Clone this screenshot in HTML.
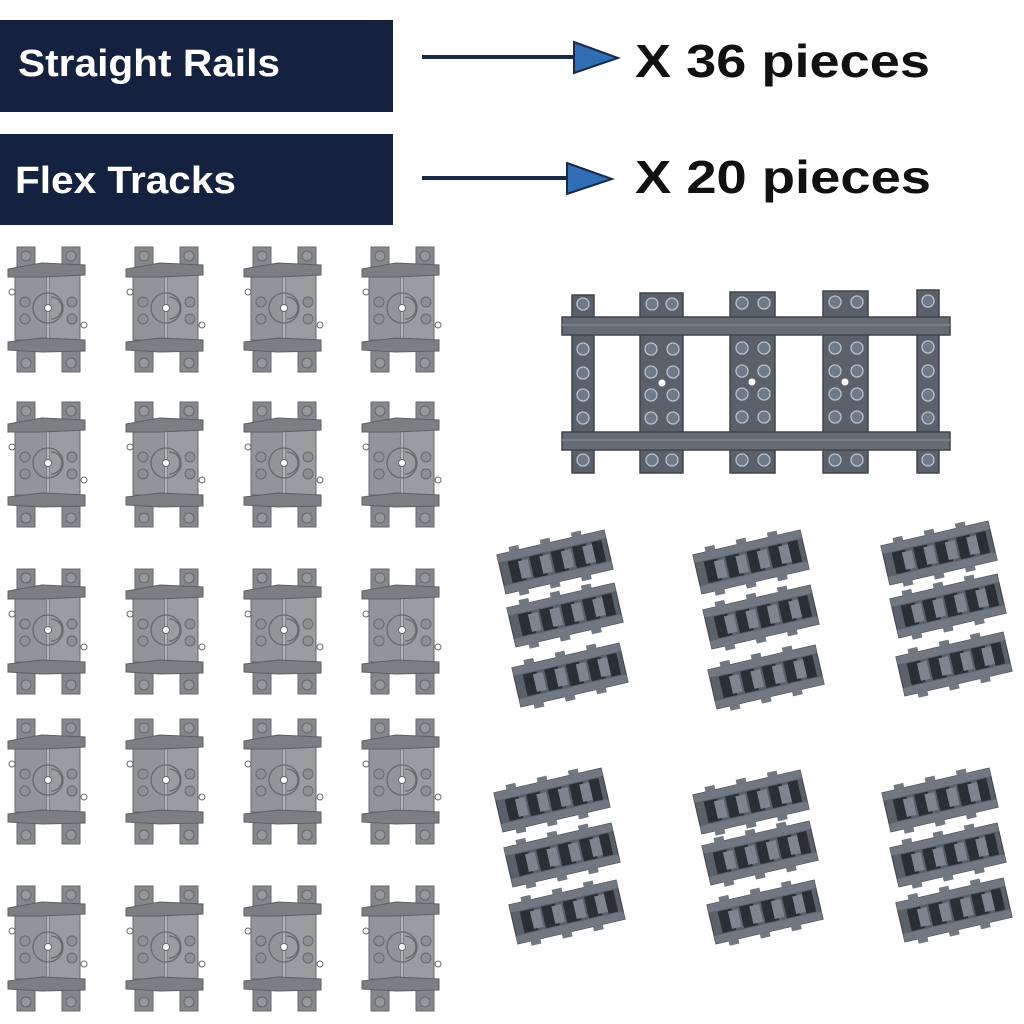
<!DOCTYPE html>
<html><head><meta charset="utf-8"><style>
html,body{margin:0;padding:0;background:#fff;}
svg{display:block;}
text{font-family:"Liberation Sans",Arial,sans-serif;font-weight:bold;}
</style></head><body>
<svg width="1024" height="1024" viewBox="0 0 1024 1024" xmlns="http://www.w3.org/2000/svg">
<defs>
  <g id="flex">
    <rect x="10" y="0" width="18" height="20" fill="#85878b" stroke="#66686c" stroke-width="1"/>
    <rect x="55" y="0" width="18" height="20" fill="#85878b" stroke="#66686c" stroke-width="1"/>
    <rect x="10" y="103" width="18" height="22" fill="#85878b" stroke="#66686c" stroke-width="1"/>
    <rect x="55" y="103" width="18" height="22" fill="#85878b" stroke="#66686c" stroke-width="1"/>
    <circle cx="19" cy="9" r="5" fill="#96989c" stroke="#66686c"/>
    <circle cx="64" cy="9" r="5" fill="#96989c" stroke="#66686c"/>
    <circle cx="19" cy="116" r="5" fill="#96989c" stroke="#66686c"/>
    <circle cx="64" cy="116" r="5" fill="#96989c" stroke="#66686c"/>
    <path d="M8 26 H40 V93 H8 Z" fill="#929498" stroke="#66686c"/>
    <path d="M42 26 H73 V93 H42 Z" fill="#9a9ca0" stroke="#66686c"/>
    <path d="M1 22 L35 16 L78 18 V28 L35 30 L1 30 Z" fill="#7c7e82" stroke="#5e6064"/>
    <path d="M1 95 L35 91 L78 93 V104 L35 105 L1 103 Z" fill="#7c7e82" stroke="#5e6064"/>
    <circle cx="41" cy="61" r="15" fill="none" stroke="#66686c" stroke-width="1.3"/>
    <path d="M44 50 A11 11 0 0 1 44 72" fill="none" stroke="#66686c" stroke-width="1.3"/>
    <circle cx="41" cy="61" r="3.5" fill="#fff" stroke="#66686c"/>
    <circle cx="18" cy="55" r="5" fill="#8d8f93" stroke="#66686c"/>
    <circle cx="18" cy="72" r="5" fill="#8d8f93" stroke="#66686c"/>
    <circle cx="65" cy="55" r="5" fill="#8d8f93" stroke="#66686c"/>
    <circle cx="65" cy="72" r="5" fill="#8d8f93" stroke="#66686c"/>
    <circle cx="5" cy="45" r="3" fill="none" stroke="#66686c"/>
    <circle cx="77" cy="78" r="3" fill="none" stroke="#66686c"/>
  </g>
  <g id="small">
    <rect x="-55" y="-20" width="110" height="40" fill="#5a616b" stroke="#3c424a"/>
    <rect x="-55" y="-20" width="110" height="8" fill="#717882"/>
    <rect x="-55" y="12" width="110" height="8" fill="#717882"/>
    <g fill="#2a2e35">
      <rect x="-46" y="-11" width="14" height="22"/>
      <rect x="-24" y="-11" width="14" height="22"/>
      <rect x="-2" y="-11" width="14" height="22"/>
      <rect x="20" y="-11" width="14" height="22"/>
      <rect x="40" y="-11" width="10" height="22"/>
    </g>
    <g fill="#7e858f">
      <rect x="-36" y="-9" width="10" height="18"/>
      <rect x="-14" y="-9" width="10" height="18"/>
      <rect x="8" y="-9" width="10" height="18"/>
      <rect x="30" y="-9" width="10" height="18"/>
    </g>
    <g fill="#717882">
      <rect x="-42" y="-25" width="10" height="5"/><rect x="-10" y="-25" width="10" height="5"/><rect x="22" y="-25" width="10" height="5"/>
      <rect x="-42" y="20" width="10" height="5"/><rect x="-10" y="20" width="10" height="5"/><rect x="22" y="20" width="10" height="5"/>
    </g>
  </g>
</defs>

<rect x="0" y="20" width="393" height="92" fill="#15223f"/>
<rect x="0" y="134" width="393" height="91" fill="#15223f"/>
<text x="18" y="76" font-size="38" fill="#fff" textLength="262" lengthAdjust="spacingAndGlyphs">Straight Rails</text>
<text x="15" y="193" font-size="38" fill="#fff" textLength="221" lengthAdjust="spacingAndGlyphs">Flex Tracks</text>

<line x1="422" y1="57" x2="578" y2="57" stroke="#1b2a48" stroke-width="4"/>
<polygon points="574,42 618,58 574,73" fill="#2f6db5" stroke="#1b2a48" stroke-width="2"/>
<line x1="422" y1="178" x2="572" y2="178" stroke="#1b2a48" stroke-width="4"/>
<polygon points="567,163 612,179 567,194" fill="#2f6db5" stroke="#1b2a48" stroke-width="2"/>
<text x="635" y="77" font-size="46" fill="#111" textLength="295" lengthAdjust="spacingAndGlyphs">X 36 pieces</text>
<text x="635" y="193" font-size="46" fill="#111" textLength="296" lengthAdjust="spacingAndGlyphs">X 20 pieces</text>

<g>
  <use href="#flex" x="7" y="247"/><use href="#flex" x="125" y="247"/><use href="#flex" x="243" y="247"/><use href="#flex" x="361" y="247"/>
  <use href="#flex" x="7" y="402"/><use href="#flex" x="125" y="402"/><use href="#flex" x="243" y="402"/><use href="#flex" x="361" y="402"/>
  <use href="#flex" x="7" y="569"/><use href="#flex" x="125" y="569"/><use href="#flex" x="243" y="569"/><use href="#flex" x="361" y="569"/>
  <use href="#flex" x="7" y="719"/><use href="#flex" x="125" y="719"/><use href="#flex" x="243" y="719"/><use href="#flex" x="361" y="719"/>
  <use href="#flex" x="7" y="886"/><use href="#flex" x="125" y="886"/><use href="#flex" x="243" y="886"/><use href="#flex" x="361" y="886"/>
</g>

<g fill="#5b616a" stroke="#40454c" stroke-width="1.5">
  <rect x="572" y="295" width="22" height="178"/>
  <rect x="640" y="293" width="43" height="180"/>
  <rect x="730" y="292" width="45" height="181"/>
  <rect x="823" y="291" width="45" height="182"/>
  <rect x="917" y="290" width="22" height="183"/>
  <rect x="562" y="317" width="388" height="18" fill="#666c75"/>
  <rect x="562" y="432" width="388" height="18" fill="#666c75"/>
</g>
<line x1="562" y1="325" x2="950" y2="325" stroke="#7d838c" stroke-width="1.5"/>
<line x1="562" y1="440" x2="950" y2="440" stroke="#7d838c" stroke-width="1.5"/>
<g fill="#6f7a89" stroke="#b9c0c9" stroke-width="1.3">
  <circle cx="583" cy="304" r="6"/><circle cx="652" cy="304" r="6"/><circle cx="672" cy="304" r="6"/>
  <circle cx="742" cy="303" r="6"/><circle cx="764" cy="303" r="6"/><circle cx="835" cy="302" r="6"/><circle cx="857" cy="302" r="6"/><circle cx="928" cy="301" r="6"/>
  <circle cx="583" cy="460" r="6"/><circle cx="652" cy="460" r="6"/><circle cx="672" cy="460" r="6"/>
  <circle cx="742" cy="460" r="6"/><circle cx="764" cy="460" r="6"/><circle cx="835" cy="460" r="6"/><circle cx="857" cy="460" r="6"/><circle cx="928" cy="460" r="6"/>
  <circle cx="583" cy="349" r="6"/><circle cx="583" cy="373" r="6"/><circle cx="583" cy="395" r="6"/><circle cx="583" cy="418" r="6"/>
  <circle cx="928" cy="347" r="6"/><circle cx="928" cy="371" r="6"/><circle cx="928" cy="395" r="6"/><circle cx="928" cy="418" r="6"/>
  <circle cx="651" cy="349" r="6"/><circle cx="673" cy="349" r="6"/><circle cx="651" cy="372" r="6"/><circle cx="673" cy="372" r="6"/><circle cx="651" cy="395" r="6"/><circle cx="673" cy="395" r="6"/><circle cx="651" cy="418" r="6"/><circle cx="673" cy="418" r="6"/>
  <circle cx="742" cy="348" r="6"/><circle cx="764" cy="348" r="6"/><circle cx="742" cy="371" r="6"/><circle cx="764" cy="371" r="6"/><circle cx="742" cy="394" r="6"/><circle cx="764" cy="394" r="6"/><circle cx="742" cy="417" r="6"/><circle cx="764" cy="417" r="6"/>
  <circle cx="835" cy="348" r="6"/><circle cx="857" cy="348" r="6"/><circle cx="835" cy="371" r="6"/><circle cx="857" cy="371" r="6"/><circle cx="835" cy="394" r="6"/><circle cx="857" cy="394" r="6"/><circle cx="835" cy="417" r="6"/><circle cx="857" cy="417" r="6"/>
</g>
<g fill="#fff"><circle cx="662" cy="383" r="3.5"/><circle cx="752" cy="382" r="3.5"/><circle cx="845" cy="382" r="3.5"/></g>

<g>
  <use href="#small" transform="translate(555,562) rotate(-13)"/>
  <use href="#small" transform="translate(565,615) rotate(-13)"/>
  <use href="#small" transform="translate(570,675) rotate(-13)"/>
  <use href="#small" transform="translate(751,562) rotate(-13)"/>
  <use href="#small" transform="translate(761,617) rotate(-13)"/>
  <use href="#small" transform="translate(766,677) rotate(-13)"/>
  <use href="#small" transform="translate(939,553) rotate(-13)"/>
  <use href="#small" transform="translate(948,606) rotate(-13)"/>
  <use href="#small" transform="translate(954,664) rotate(-13)"/>
  <use href="#small" transform="translate(552,800) rotate(-13)"/>
  <use href="#small" transform="translate(562,855) rotate(-13)"/>
  <use href="#small" transform="translate(567,912) rotate(-13)"/>
  <use href="#small" transform="translate(751,802) rotate(-13)"/>
  <use href="#small" transform="translate(760,853) rotate(-13)"/>
  <use href="#small" transform="translate(765,912) rotate(-13)"/>
  <use href="#small" transform="translate(940,800) rotate(-13)"/>
  <use href="#small" transform="translate(948,855) rotate(-13)"/>
  <use href="#small" transform="translate(954,910) rotate(-13)"/>
</g>
</svg>
</body></html>
